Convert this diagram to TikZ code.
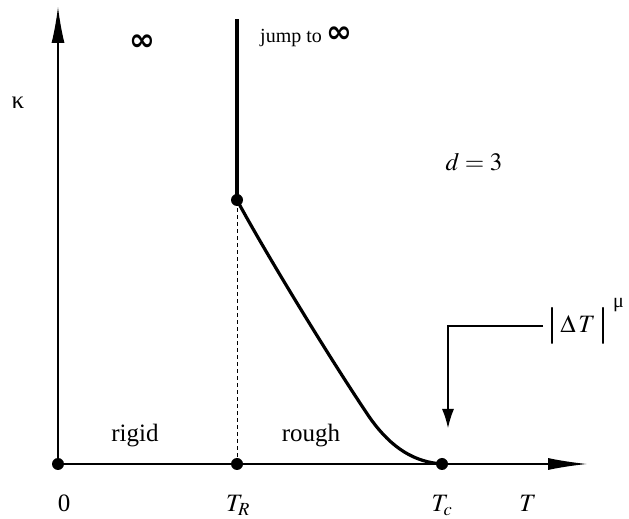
\documentclass[tikz,border=0pt]{standalone}
\usepackage{mathptmx}
\usepackage[no-math]{fontspec}
\setmainfont{Liberation Serif}
\newfontfamily\symfont{DejaVu Sans}
\usetikzlibrary{arrows.meta}

\newcommand{\infsym}{{\symfont\bfseries\fontsize{31}{31}\selectfont ∞}}
\newcommand{\tallbar}{\raisebox{-3pt}{\fontsize{40}{40}\selectfont|}}

\tikzset{
  big/.style={font=\fontsize{25}{30}\selectfont},
  small/.style={font=\fontsize{20}{24}\selectfont},
  dot/.style={circle,fill,inner sep=0pt,minimum size=12pt},
  axis/.style={line width=1.2pt},
  curve/.style={line width=3.2pt},
}

\begin{document}
\begin{tikzpicture}[x=1pt,y=1pt]
  \useasboundingbox (0,0) rectangle (629,519);
  % points on the T axis
  \node[dot] (O) at (58,55) {};
  \node[dot] (TR) at (237,55) {};
  \node[dot] (Tc) at (442,55) {};
  \node[dot] (kR) at (237,319) {};
  \coordinate (ytip) at (58,512);
  \coordinate (xtip) at (587,55);
  \coordinate (top) at (237,500);
  % axes
  \draw[axis,-{Latex[length=36pt,width=13pt]}] (O.center) -- (ytip);
  \draw[axis,-{Latex[length=39pt,width=12pt]}] (O.center) -- (xtip);
  % line of transitions
  \draw[line width=1pt,dash pattern=on 4pt off 3pt] (TR.center) -- (kR.center);
  \draw[curve] (kR.center) -- (top);
  \draw[curve] (kR.center) .. controls (262,272) and (330,160) .. (370,101)
    .. controls (392,70) and (415,57) .. (Tc.center);
  % labels
  \node[big] (kappa) at (18,416) {κ};
  \node[inner sep=0pt] (inf) at (142,476) {\infsym};
  \node[small,anchor=base west,inner sep=0pt] (jump) at (260,476) {jump to \infsym};
  \node[big] (dim) at (474,357) {$d=3$};
  \node[big,anchor=base] (rigid) at (135,77) {rigid};
  \node[big,anchor=base] (rough) at (311,77) {rough};
  \node[big,anchor=base] (zero) at (64,7) {0};
  \node[big,anchor=base] (lTR) at (238,7) {$T_R$};
  \node[big,anchor=base] (lTc) at (442,7) {$T_c$};
  \node[big,anchor=base] (lT) at (528,7) {$T$};
  \node[big,anchor=west,inner sep=5pt] (dT) at (543,193)
    {\tallbar\,$\Delta\,T$\,\tallbar};
  \node[small,anchor=south west,inner sep=0pt,yshift=-9pt] (mu)
    at (dT.north east) {μ};
  % arrow to T_c
  \coordinate (bend) at (448,193);
  \coordinate (atip) at (448,91);
  \draw[axis,-{Latex[length=19pt,width=12pt]}] (dT.west) -- (bend) -- (atip);
\end{tikzpicture}
\end{document}
